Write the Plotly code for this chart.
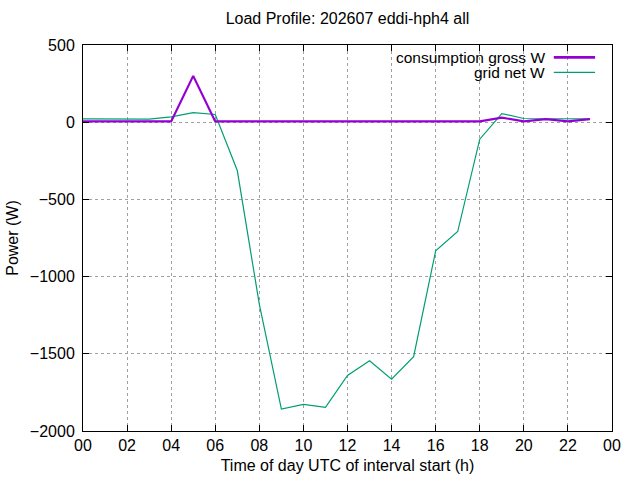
import plotly.graph_objects as go

hours = list(range(24))
consumption_gross = [5, 5, 5, 5, 5, 300, 5, 5, 5, 5, 5, 5, 5, 5, 5, 5, 5, 5, 5, 30, 5, 20, 5, 20]
grid_net = [22, 20, 20, 20, 34, 62, 50, -313, -1180, -1858, -1828, -1847, -1640, -1545,
            -1665, -1519, -833, -708, -110, 56, 24, 22, 22, 22]
x_tickvals = list(range(0, 25, 2))
x_ticktext = ["00", "02", "04", "06", "08", "10", "12", "14", "16", "18", "20", "22", "00"]
y_tickvals = [500, 0, -500, -1000, -1500, -2000]

PURPLE = "#9400D3"
GREEN = "#009E73"
FONT = "Liberation Sans, Arial, sans-serif"

fig = go.Figure()
fig.add_trace(go.Scatter(x=hours, y=grid_net, mode="lines", name="grid net W",
                         line=dict(color=GREEN, width=1.2)))
fig.add_trace(go.Scatter(x=hours, y=consumption_gross, mode="lines", name="consumption gross W",
                         line=dict(color=PURPLE, width=2.2)))

axis_common = dict(showline=True, linecolor="black", linewidth=1, mirror="ticks",
                   ticks="inside", ticklen=6, tickcolor="black", showgrid=True,
                   gridcolor="#a0a0a0", griddash="dot", gridwidth=1, zeroline=False,
                   automargin=False,
                   tickfont=dict(size=16, color="black", family=FONT))

fig.update_xaxes(range=[0, 24], tickmode="array", tickvals=x_tickvals, ticktext=x_ticktext,
                 title=dict(text="Time of day UTC of interval start (h)", standoff=6,
                            font=dict(size=16, color="black", family=FONT)),
                 **axis_common)
fig.update_yaxes(range=[-2000, 500], tickmode="array", tickvals=y_tickvals,
                 ticklabelstandoff=4,
                 title=dict(text="Power (W)", standoff=7,
                            font=dict(size=16, color="black", family=FONT)),
                 **axis_common)

# gnuplot-style legend: right-aligned text, line sample on the right
legend_items = [("consumption gross W", PURPLE, 2.6, 0.968), ("grid net W", GREEN, 1.2, 0.929)]
for label, color, w, yy in legend_items:
    fig.add_annotation(xref="paper", yref="paper", x=0.877, y=yy, text=label,
                       showarrow=False, xanchor="right", yanchor="middle",
                       font=dict(size=15.5, color="black", family=FONT))
    fig.add_shape(type="line", xref="paper", yref="paper", x0=0.89, x1=0.968, y0=yy, y1=yy,
                  line=dict(color=color, width=w))

fig.update_layout(
    width=640, height=480,
    margin=dict(l=83, r=28, t=45, b=49),
    paper_bgcolor="white", plot_bgcolor="white",
    showlegend=False,
    font=dict(family=FONT, size=16, color="black"),
    title=dict(text="Load Profile: 202607 eddi-hph4 all", x=0.5, xref="paper",
               y=0.962, yref="container", yanchor="middle",
               font=dict(size=16, color="black", family=FONT)),
)

fig.write_html("out.html", config={"displayModeBar": False},
               post_script="document.body.style.margin='0';document.body.style.overflow='hidden';")
